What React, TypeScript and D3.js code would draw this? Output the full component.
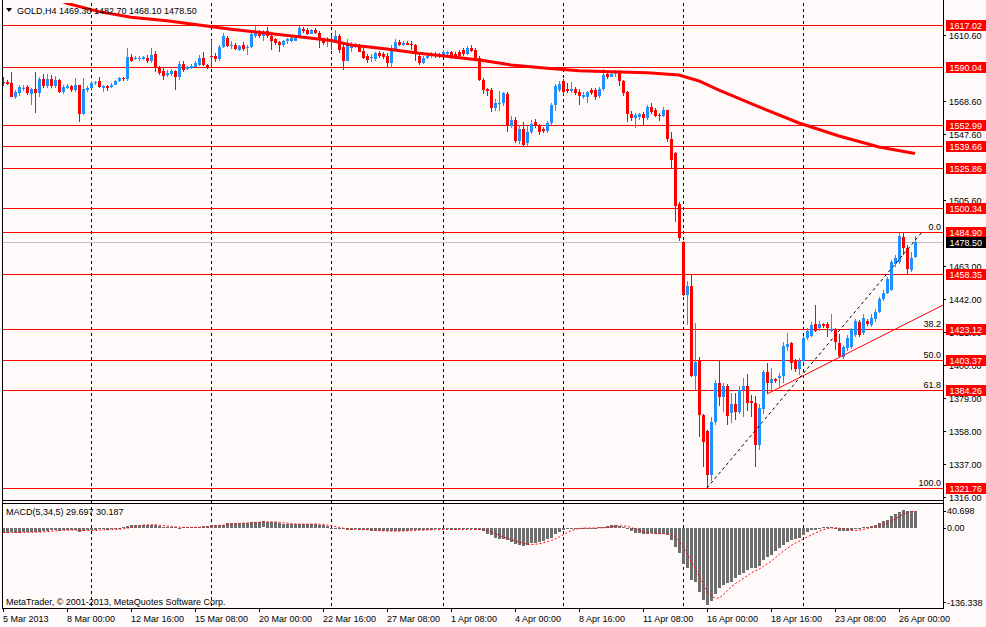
import React from "react";
import * as d3 from "d3";

// H4 candles, [open, high, low, close], 5 Mar 2013 08:00 .. 26 Apr 2013 16:00
const ohlc: [number, number, number, number][] = [
  [1580.8, 1583.5, 1578, 1580], [1580.8, 1582, 1578.5, 1579.3], [1580, 1587, 1571, 1571], [1571, 1575.5, 1569.5, 1574],
  [1573.5, 1579, 1572, 1577.5], [1576, 1578.5, 1575, 1577], [1577.5, 1579, 1572.5, 1573.5], [1573, 1577, 1566, 1576],
  [1576, 1587, 1561, 1573.5], [1573.5, 1584, 1571, 1582.5], [1582.5, 1585.5, 1577, 1578], [1578, 1585.5, 1577, 1582.5],
  [1582.5, 1585, 1576.5, 1578], [1578, 1584.5, 1577, 1582], [1582, 1582.5, 1573.5, 1574], [1574, 1578.5, 1573, 1577.5],
  [1577, 1579.5, 1576, 1578], [1578, 1579, 1574.5, 1575.5], [1575.5, 1583, 1574.5, 1578.5], [1578.5, 1579, 1555, 1560.5],
  [1560.5, 1583, 1559.5, 1576], [1575.5, 1578, 1574, 1577], [1576.5, 1581, 1576, 1580], [1580, 1581.5, 1579, 1580.5],
  [1581, 1583.5, 1577, 1577.5], [1576.5, 1578.5, 1574, 1578], [1578, 1579, 1575, 1577], [1577.5, 1580, 1577, 1579],
  [1579, 1582, 1578.5, 1581], [1581, 1583.5, 1580.5, 1583], [1583, 1583.5, 1581, 1582.5], [1582.5, 1602, 1581.5, 1596.5],
  [1596.5, 1598.5, 1593.5, 1594], [1595, 1597.5, 1594.5, 1596], [1595, 1597, 1594, 1596], [1595.5, 1597.5, 1594.5, 1596.5],
  [1596, 1598, 1593, 1594], [1594, 1602, 1593, 1598], [1598.5, 1600.5, 1587, 1589.5], [1590, 1591, 1585, 1586.5],
  [1587.5, 1590, 1582, 1584.5], [1585, 1588, 1584, 1586.5], [1585.5, 1589, 1584.5, 1587.5], [1587.5, 1588.5, 1575.5, 1584],
  [1584, 1594, 1582, 1592], [1592, 1594, 1587, 1588], [1589, 1591, 1588, 1590], [1589.5, 1592, 1589, 1591],
  [1590.5, 1594, 1590, 1593], [1591.5, 1598, 1591, 1596], [1596, 1599.5, 1591, 1591.5], [1591.5, 1592, 1589, 1590],
  [1597.5, 1607.5, 1590, 1596.5], [1597, 1599, 1593.5, 1595], [1595, 1604.5, 1594, 1603], [1603, 1612, 1602, 1610],
  [1608.5, 1610, 1603, 1603.5], [1603.5, 1606.5, 1601.5, 1604.5], [1604.5, 1605.5, 1601, 1601.5], [1601, 1604.5, 1600.5, 1603.5],
  [1604.5, 1606, 1600.5, 1601.5], [1602, 1604.5, 1598, 1603], [1603, 1613.5, 1602, 1611.5], [1610, 1616.5, 1609, 1612],
  [1612.5, 1614, 1609, 1610], [1610, 1613.5, 1606.5, 1612], [1613, 1616, 1609, 1610], [1610, 1611, 1601, 1607],
  [1608, 1609, 1604, 1605.5], [1606, 1607, 1600, 1604], [1604, 1607.5, 1603, 1606.5], [1606.5, 1609, 1605, 1608],
  [1606.5, 1609.5, 1606, 1608.5], [1607, 1610, 1606.5, 1609], [1609.5, 1616.5, 1609, 1615], [1614.5, 1615.5, 1612, 1613],
  [1614, 1615, 1610.5, 1611.5], [1611.5, 1614.5, 1611, 1613.5], [1614, 1615, 1611, 1612], [1612, 1613, 1602, 1608],
  [1608, 1609, 1604, 1605.5], [1607, 1609.5, 1603, 1608], [1608, 1610, 1601, 1606.5], [1607, 1614, 1605.5, 1610],
  [1610, 1611, 1599, 1601], [1603, 1605, 1588, 1594], [1594, 1608, 1594, 1605.5], [1602, 1606, 1600, 1604.5],
  [1603.5, 1605.5, 1602.5, 1604.5], [1603.5, 1605, 1599.5, 1600], [1600.5, 1602, 1595, 1596], [1597.5, 1598.5, 1593, 1594.5],
  [1596, 1598.5, 1593.5, 1596.5], [1595, 1600, 1594, 1599], [1599, 1600.5, 1596, 1597.5], [1598.5, 1599.5, 1595.5, 1596.5],
  [1597.5, 1599, 1590.5, 1592.5], [1592.5, 1604, 1589.5, 1602.5], [1601.5, 1608, 1600.5, 1606], [1606, 1607.5, 1603.5, 1604],
  [1604, 1607, 1603.5, 1605.5], [1605.5, 1606.5, 1604, 1604.5], [1605, 1606.5, 1601, 1604], [1604, 1605, 1594, 1598.5],
  [1597.5, 1599, 1591.5, 1593], [1593, 1597, 1592, 1596], [1596, 1598.5, 1595, 1597.5], [1597, 1599.5, 1596, 1598.5],
  [1598.5, 1599.5, 1596, 1597], [1598, 1599, 1596, 1597], [1597, 1601, 1596.5, 1599.5], [1598.5, 1600.5, 1598, 1599.5],
  [1599.5, 1600.5, 1595, 1597], [1598.5, 1599.5, 1595, 1597.5], [1600, 1601, 1595.5, 1597.5], [1601, 1602.5, 1597.5, 1598.5],
  [1598.5, 1603.5, 1598, 1602], [1602, 1604, 1599.5, 1600.5], [1601, 1602, 1595, 1596], [1596, 1597, 1581, 1582],
  [1582, 1583, 1573, 1575.5], [1576, 1577, 1572, 1575], [1575.5, 1576.5, 1561.5, 1564], [1564, 1570, 1562, 1567.5],
  [1567, 1575, 1562, 1567.5], [1567, 1574.5, 1565.5, 1573.5], [1573, 1574, 1548.5, 1552.5], [1552.5, 1559, 1551.5, 1556.5],
  [1556.5, 1558.5, 1542, 1543], [1543, 1553, 1541, 1550.5], [1550.5, 1555, 1539, 1540.5], [1541.5, 1552.5, 1540, 1548.5],
  [1548.5, 1556.5, 1547.5, 1554], [1555, 1557, 1551, 1552.5], [1553, 1554, 1547, 1548.5], [1550.5, 1552, 1548, 1549.5],
  [1549.5, 1556, 1548, 1554.5], [1554.5, 1567.5, 1553, 1566], [1566, 1579.5, 1562, 1578], [1575.5, 1581, 1574.5, 1579.5],
  [1581, 1582.5, 1572.5, 1574.5], [1576, 1580, 1573.5, 1575], [1575, 1580.5, 1573.5, 1576], [1576, 1577.5, 1572.5, 1573.5],
  [1574.5, 1576, 1566, 1571.5], [1571, 1574, 1570, 1572.5], [1571, 1575, 1567.5, 1574], [1575.5, 1577, 1572.5, 1573.5],
  [1575.5, 1576.5, 1569, 1571], [1571.5, 1577.5, 1570.5, 1576], [1576, 1588.7, 1575, 1585], [1585.5, 1587, 1582.5, 1584],
  [1584, 1587, 1583.5, 1586], [1585.5, 1588.5, 1584, 1586.5], [1586.5, 1588, 1578, 1581.5], [1581, 1582, 1572, 1573.5],
  [1574, 1575, 1555, 1560], [1560.5, 1562, 1555.5, 1557.5], [1557.5, 1561, 1551.5, 1559.5], [1558, 1561, 1556.5, 1560],
  [1560.5, 1561.5, 1553, 1557.5], [1557.5, 1566, 1556.5, 1564.5], [1564.5, 1567, 1560.5, 1561.5], [1562.5, 1564, 1558, 1559],
  [1559.5, 1561, 1555.5, 1559], [1559, 1565, 1558, 1563], [1562.5, 1563, 1542.5, 1544], [1544, 1549, 1525, 1531],
  [1535.5, 1536, 1491.5, 1501.5], [1503, 1504, 1479.5, 1481], [1478.5, 1479, 1444, 1444.5], [1444.5, 1453.5, 1425.5, 1450.5],
  [1450.5, 1458.5, 1392.5, 1393], [1393, 1427, 1384.5, 1402], [1403.5, 1405, 1354.5, 1368], [1368, 1369, 1334.9, 1351],
  [1358.3, 1359, 1321.8, 1330], [1330, 1367.2, 1326.4, 1364], [1364, 1390.5, 1362, 1389], [1389, 1403, 1374, 1380],
  [1380, 1389, 1370.5, 1387], [1387, 1388, 1361.9, 1367.5], [1369.5, 1382, 1363, 1375.5], [1375, 1382, 1365, 1370.5],
  [1370.5, 1387, 1369, 1384.5], [1384.5, 1392, 1367, 1387], [1387, 1394.5, 1371, 1376], [1377, 1381, 1367, 1376],
  [1376, 1380.5, 1335.3, 1349], [1349, 1375, 1346, 1373], [1372, 1397, 1369, 1396], [1396, 1401.5, 1381.7, 1388.5],
  [1388.5, 1398, 1383, 1391.5], [1391.5, 1392, 1389, 1390], [1392, 1395, 1386, 1393], [1393, 1415, 1389, 1412],
  [1411.5, 1420.5, 1409, 1413.5], [1414, 1415, 1397, 1401.5], [1403.3, 1404, 1396, 1397.6], [1397.6, 1404.6, 1393.8, 1402.7],
  [1402.7, 1418.5, 1401.5, 1417.2], [1417.5, 1423.6, 1416, 1421.8], [1418.9, 1427.5, 1418, 1425.7], [1426.1, 1438.4, 1421.5, 1421.8],
  [1424, 1428, 1422, 1426.1], [1426.1, 1427, 1424, 1425.3], [1426.1, 1427.5, 1418.2, 1423.6], [1421.6, 1432.5, 1421, 1423],
  [1423, 1424, 1409.7, 1415], [1413.9, 1419.9, 1404.6, 1406], [1405.4, 1413, 1404, 1411.8], [1410.9, 1419.3, 1409, 1417.2],
  [1411.8, 1423.6, 1410.5, 1423.1], [1419.3, 1429.5, 1418.2, 1428.2], [1427.8, 1429, 1418, 1419.3], [1420.4, 1432.5, 1419.3, 1430.3],
  [1428.2, 1429.5, 1425.2, 1426.1], [1425.7, 1432.5, 1424.6, 1429.9], [1429.5, 1436, 1427.8, 1433.7], [1433.7, 1443.7, 1433.1, 1442.2],
  [1442.2, 1448, 1441, 1445.8], [1445.8, 1456.4, 1445.2, 1454.9], [1448, 1467.1, 1447.3, 1465.6], [1464.7, 1470.3, 1462.8, 1468.4],
  [1465.6, 1484.1, 1464.7, 1482.6], [1482, 1485, 1470.3, 1474.6], [1474.9, 1476.7, 1457.6, 1461.4], [1460.7, 1472, 1459.5, 1468.6],
  [1469.3, 1482.7, 1468.1, 1478.5],
];

// MACD(5,34,5) main line, one value per bar
const macdMain: number[] = [
  -8, -8, -7.5, -8, -8, -7.5, -7, -7.5, -7, -7,
  -6, -4.5, -4, -4, -4.5, -3.5, -3.5, -3, -4, -7,
  -5, -4, -4, -3, -2.5, -2.5, -3, -2.5, -2, -1,
  1, 3.5, 5, 5.5, 6, 6, 5.5, 5.5, 5, 3,
  2.5, 2, 1.5, 1, 0.5, 1, 1, 1, 1.5, 2.5,
  3, 3, 5, 5.5, 6, 6, 8, 8.5, 8.5, 9,
  9, 9, 10, 11, 11, 11.5, 11, 10.5, 10, 8,
  7, 7, 6.5, 6.5, 7, 7, 7, 7, 6.5, 6,
  5, 3, 0, -1, -2, -2.5, -3, -3, -2.5, -3,
  -3, -4, -4.5, -5, -5, -6, -6, -5.5, -5, -5,
  -5, -4.5, -4, -3, -3.5, -3.5, -3, -3, -2.5, -2.5,
  -2.5, -2.5, -3, -3, -2.5, -2.5, -2.5, -2.5, -3, -3,
  -6, -10, -13, -17, -20, -20, -22, -24, -28, -30,
  -31, -30, -27, -26, -25, -23, -20, -17, -11, -7,
  -3, -1, -0.5, 0, 0, 0.5, 0, -0.5, 0, 1,
  1, 3, 6, 6, 3, 1, -2, -5, -8, -9,
  -11, -10, -9, -10, -10, -10, -12, -21, -33, -45,
  -63, -71, -92, -96, -113, -127, -136, -130, -117, -107,
  -101, -98, -96, -89, -83, -79, -75, -71, -70, -67,
  -57, -51, -47, -41, -36, -30, -24, -22, -20, -18,
  -12, -7, -4, -3, -1, 1, 2, 1, -1, -5,
  -6, -6, -4, -2, -1, 1, 2, 4, 6, 8,
  12, 15, 21, 25, 28.94, 32, 30.5, 29.8, 29.697,
];

// moving average, sampled [bar, price]
const maPoints: [number, number][] = [
  [14, 1633], [16, 1630.8], [24, 1625.5], [32, 1621.9], [41, 1619.7], [49, 1617.0], [57, 1614.2],
  [66, 1611.7], [74, 1609.5], [82, 1607.1], [87, 1604.2], [96, 1601.7], [104, 1599.0], [112, 1596.8],
  [120, 1594.3], [127, 1591.5], [136, 1589.4], [144, 1587.8], [152, 1587.2], [161, 1586.6], [169, 1585.1],
  [174, 1581.3], [179, 1575.5], [189, 1564.7], [199, 1554.5], [209, 1546.2], [219, 1539.2], [228, 1535.0],
];

const levelLines = [1617.02, 1590.04, 1552.99, 1539.66, 1525.86, 1500.34, 1484.9, 1458.35, 1423.12, 1403.37, 1384.26, 1321.76];
const fibLevels = [
  { text: "0.0", price: 1484.9 },
  { text: "38.2", price: 1423.12 },
  { text: "50.0", price: 1403.37 },
  { text: "61.8", price: 1384.26 },
  { text: "100.0", price: 1321.76 },
];
const fibAnchors: [number, number][] = [[176, 1321.76], [229.75, 1484.9]];
const trendAnchors: [number, number][] = [[191, 1381.7], [235, 1438.4]];
const priceTicks = [1610.6, 1568.6, 1547.6, 1505.6, 1463, 1442, 1421, 1400, 1379, 1358, 1337, 1316];
const timeLabels = [
  "5 Mar 2013", "8 Mar 00:00", "12 Mar 16:00", "15 Mar 08:00", "20 Mar 00:00", "22 Mar 16:00", "27 Mar 08:00",
  "1 Apr 08:00", "4 Apr 00:00", "8 Apr 16:00", "11 Apr 08:00", "16 Apr 00:00", "18 Apr 16:00", "23 Apr 08:00", "26 Apr 00:00",
];
const gridBars = [22, 52, 82, 110, 140, 170, 200];
const macdTicks = [40.698, 0, -136.338];

const FONT = "'Liberation Sans', Arial, sans-serif";
const BG = "#fffafa";
const BULL = "#1e90ff";
const BEAR = "#ff0000";

const App = () => {
  const W = 986;
  const H = 627;
  const AXIS_X = 943;
  const MAIN_BOTTOM = 500;
  const MACD_TOP = 503;
  const MACD_BOTTOM = 608;

  const x = d3.scaleLinear().domain([0, ohlc.length - 1]).range([3, 3 + 4 * (ohlc.length - 1)]);
  const y = d3.scaleLinear().domain([1316, 1610.6]).range([497, 35]);
  const ym = d3.scaleLinear().domain([-136.338, 40.698]).range([605, 505]);

  // signal = SMA(5) of main line
  const signal = macdMain.map((_, i) => d3.mean(macdMain.slice(Math.max(0, i - 4), i + 1))!);

  const px = (i: number) => Math.round(x(i));
  const py = (p: number) => Math.round(y(p));

  const maLine = d3
    .line<[number, number]>()
    .x((d) => x(d[0]))
    .y((d) => y(d[1]))(maPoints)!;

  const sigLine = d3
    .line<number>()
    .x((_, i) => px(i) + 0.5)
    .y((d) => ym(d))(signal)!;

  const last = ohlc[ohlc.length - 1];
  const bid = last[3];

  return (
    <svg
      width={W}
      height={H}
      style={{ position: "absolute", left: 0, top: 0, background: BG }}
      fontFamily={FONT}
      fontSize={9}
    >
      <defs>
        <clipPath id="mainClip">
          <rect x={3} y={3} width={AXIS_X - 3} height={MAIN_BOTTOM - 3} />
        </clipPath>
        <clipPath id="macdClip">
          <rect x={3} y={MACD_TOP + 1} width={AXIS_X - 3} height={MACD_BOTTOM - MACD_TOP - 1} />
        </clipPath>
      </defs>
      <rect x={0} y={0} width={W} height={H} fill={BG} />

      {/* grid */}
      {gridBars.map((b) => (
        <line key={"g" + b} x1={px(b) + 0.5} x2={px(b) + 0.5} y1={3} y2={MACD_BOTTOM}
          stroke="#000" strokeDasharray="3,3" />
      ))}

      <g clipPath="url(#mainClip)" shapeRendering="crispEdges">
        {/* bid line */}
        <line x1={3} x2={AXIS_X} y1={py(bid) + 0.5} y2={py(bid) + 0.5} stroke="#c0c0c0" />
        {levelLines.map((p) => (
          <line key={"l" + p} x1={3} x2={AXIS_X} y1={py(p) + 0.5} y2={py(p) + 0.5} stroke="#ff0000" />
        ))}
        {/* candles */}
        {ohlc.map(([o, h, l, c], i) => {
          const col = c >= o ? BULL : BEAR;
          const top = y(Math.max(o, c));
          const bh = Math.max(1, Math.abs(y(o) - y(c)));
          return (
            <g key={"c" + i} fill={col}>
              <rect x={px(i)} y={y(h)} width={1} height={Math.max(1, y(l) - y(h))} />
              <rect x={px(i) - 1} y={top} width={3} height={bh} />
            </g>
          );
        })}
      </g>

      <g clipPath="url(#mainClip)">
        <path d={maLine} fill="none" stroke="#ff0000" strokeWidth={3} />
        <line x1={x(trendAnchors[0][0])} y1={y(trendAnchors[0][1])} x2={x(trendAnchors[1][0])} y2={y(trendAnchors[1][1])}
          stroke="#ff0000" strokeWidth={1} />
        <line x1={x(fibAnchors[0][0])} y1={y(fibAnchors[0][1])} x2={x(fibAnchors[1][0])} y2={y(fibAnchors[1][1])}
          stroke="#000" strokeWidth={1} strokeDasharray="3,3" />
        {fibLevels.map((f) => (
          <text key={"f" + f.text} x={941} y={py(f.price) - 2} textAnchor="end" fill="#000">{f.text}</text>
        ))}
      </g>

      {/* MACD */}
      <g clipPath="url(#macdClip)">
        {macdMain.map((v, i) => (
          <rect key={"h" + i} x={px(i) - 1} y={Math.round(ym(Math.max(v, 0)))} width={3}
            height={Math.max(1, Math.round(Math.abs(ym(v) - ym(0))))} fill="#6e6e6e" shapeRendering="crispEdges" />
        ))}
        <path d={sigLine} fill="none" stroke="#ff0000" strokeWidth={1} strokeDasharray="2,2" />
      </g>

      {/* frames */}
      <g stroke="#000" fill="none" shapeRendering="crispEdges">
        <line x1={2.5} x2={2.5} y1={0} y2={MACD_BOTTOM + 0.5} />
        <line x1={AXIS_X + 0.5} x2={AXIS_X + 0.5} y1={0} y2={MACD_BOTTOM + 0.5} />
        <line x1={2.5} x2={AXIS_X + 0.5} y1={MAIN_BOTTOM + 0.5} y2={MAIN_BOTTOM + 0.5} />
        <line x1={2.5} x2={AXIS_X + 0.5} y1={MACD_TOP + 0.5} y2={MACD_TOP + 0.5} />
        <line x1={2.5} x2={AXIS_X + 0.5} y1={MACD_BOTTOM + 0.5} y2={MACD_BOTTOM + 0.5} />
      </g>

      {/* header */}
      <path d="M6,8 L12,8 L9,12 Z" fill="#000" />
      <text x={17} y={14} fill="#000">
        {"GOLD,H4  " + last.map((v) => v.toFixed(2)).join(" ")}
      </text>
      <text x={6} y={515} fill="#000">
        {`MACD(5,34,5) ${macdMain[macdMain.length - 1].toFixed(3)} ${signal[signal.length - 1].toFixed(3)}`}
      </text>
      <text x={6} y={605} fill="#000">MetaTrader, © 2001-2013, MetaQuotes Software Corp.</text>

      {/* price axis */}
      {priceTicks.map((t) => (
        <g key={"t" + t}>
          <line x1={AXIS_X} x2={AXIS_X + 3} y1={py(t) + 0.5} y2={py(t) + 0.5} stroke="#000" shapeRendering="crispEdges" />
          <text x={949} y={py(t) + 3.5} fill="#000">{t.toFixed(2)}</text>
        </g>
      ))}
      {levelLines.map((p) => (
        <g key={"lab" + p}>
          <rect x={946} y={py(p) - 5} width={40} height={11} fill="#ff0000" />
          <text x={949.5} y={py(p) + 3.5} fill="#fff">{p.toFixed(2)}</text>
        </g>
      ))}
      <rect x={946} y={py(bid) - 5} width={40} height={11} fill="#000" />
      <text x={949.5} y={py(bid) + 3.5} fill="#fff">{bid.toFixed(2)}</text>

      {/* MACD axis */}
      {macdTicks.map((t, k) => {
        const cy = k === 0 ? ym(t) + 5.5 : k === macdTicks.length - 1 ? ym(t) - 3 : ym(t);
        return (
          <g key={"m" + k}>
            <line x1={AXIS_X} x2={AXIS_X + 3} y1={Math.round(cy) + 0.5} y2={Math.round(cy) + 0.5} stroke="#000" />
            <text x={947} y={cy + 3.5} fill="#000">{t === 0 ? "0.00" : String(t)}</text>
          </g>
        );
      })}

      {/* time axis */}
      {timeLabels.map((s, k) => (
        <g key={"d" + k}>
          <line x1={px(k * 16) + 0.5} x2={px(k * 16) + 0.5} y1={MACD_BOTTOM} y2={MACD_BOTTOM + 4} stroke="#000" />
          <text x={px(k * 16)} y={622} fill="#000">{s}</text>
        </g>
      ))}
    </svg>
  );
};

export default App;
